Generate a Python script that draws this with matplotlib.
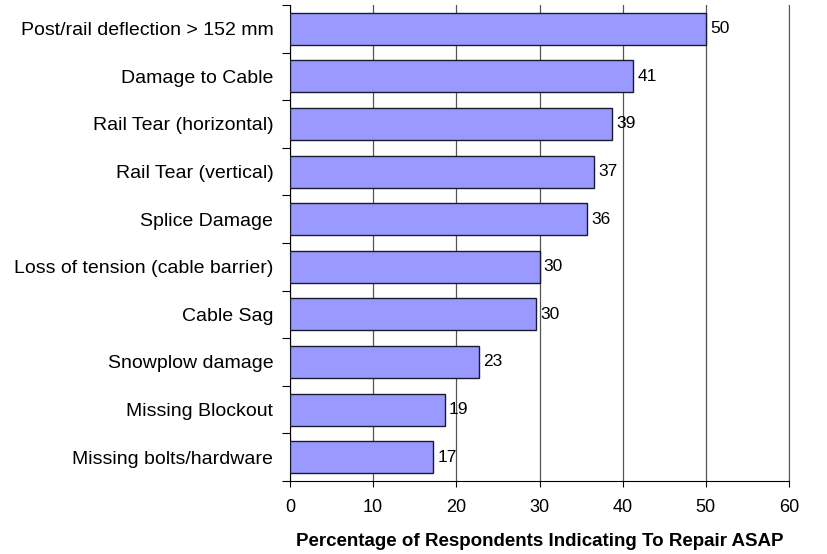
import matplotlib
matplotlib.use('Agg')
import matplotlib.pyplot as plt
import numpy as np

plt.rcParams['font.family'] = ['Liberation Sans', 'DejaVu Sans']

# Datos (de arriba hacia abajo)
categorias = ['Post/rail deflection > 152 mm', 'Damage to Cable', 'Rail Tear (horizontal)',
              'Rail Tear (vertical)', 'Splice Damage', 'Loss of tension (cable barrier)',
              'Cable Sag', 'Snowplow damage', 'Missing Blockout', 'Missing bolts/hardware']
valores = [50.0, 41.3, 38.7, 36.6, 35.7, 30.0, 29.6, 22.7, 18.6, 17.2]
xticks = [0, 10, 20, 30, 40, 50, 60]

fig = plt.figure(figsize=(8.28, 5.54), dpi=100)
ax = fig.add_axes([290/828, 1 - 481/554, (789-290)/828, (481-5)/554])

n = len(categorias)
pos = np.arange(n)[::-1]
bars = ax.barh(pos, valores, height=0.67, color='#9999FF', edgecolor='#1a1a2e',
               linewidth=1.0, zorder=3)

for b, v in zip(bars, valores):
    ax.text(v + 0.5, b.get_y() + b.get_height()/2, f'{round(v):d}',
            va='center', ha='left', fontsize=12.5, zorder=4)

ax.set_xlim(0, 60)
ax.set_ylim(-0.5, n - 0.5)
ax.set_xticks(xticks)
ax.set_xticklabels([str(t) for t in xticks], fontsize=13)
ax.xaxis.grid(True, color='#555555', linewidth=0.9, zorder=0)
ax.tick_params(axis='x', direction='out', length=4, pad=9, color='black')

# ticks de categorias en los limites, etiquetas centradas
ax.set_yticks(np.arange(-0.5, n, 1.0))
ax.set_yticklabels([])
ax.set_yticks(pos, minor=True)
ax.set_yticklabels(categorias, minor=True, fontsize=14)
ax.tick_params(axis='y', which='major', direction='out', length=6, color='black')
ax.tick_params(axis='y', which='minor', length=0, pad=12)

ax.spines['top'].set_visible(False)
ax.spines['right'].set_color('#555555')
ax.spines['left'].set_color('black')
ax.spines['bottom'].set_color('black')

ax.set_xlabel('Percentage of Respondents Indicating To Repair ASAP',
              fontsize=13.5, fontweight='bold', labelpad=12)

fig.savefig('out.png', dpi=100, facecolor='white')
